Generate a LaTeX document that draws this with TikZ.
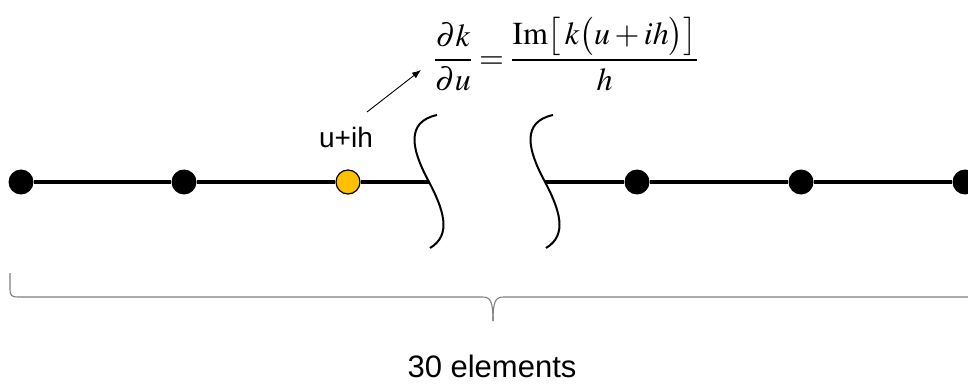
\documentclass[tikz,border=0pt]{standalone}
\usepackage{mathptmx}
\usepackage{fontspec}
\setmainfont{Liberation Serif}
\setsansfont{Liberation Sans}
\usetikzlibrary{arrows.meta}
\definecolor{dotyellow}{HTML}{FFC000}
\tikzset{
  dotnode/.style={circle, fill=black, inner sep=0pt, minimum size=25pt},
  ydotnode/.style={circle, fill=dotyellow, draw=black, line width=1.2pt, inner sep=0pt, minimum size=24pt},
  chain/.style={line width=3pt, black},
  breakline/.style={line width=2pt, black},
  bracestyle/.style={line width=1.1pt, gray},
  lbl/.style={font=\sffamily\fontsize{28}{32}\selectfont, inner sep=0pt},
}
\begin{document}
\begin{tikzpicture}[x=1pt,y=-1pt]
\clip (0,0) rectangle (968,390);
\fill[white] (0,0) rectangle (968,390);
% dots
\node[dotnode] (n1) at (21,182) {};
\node[dotnode] (n2) at (184,182) {};
\node[ydotnode] (n3) at (348,182) {};
\node[dotnode] (n4) at (637,182) {};
\node[dotnode] (n5) at (801,182) {};
\node[dotnode] (n6) at (965,182) {};
\coordinate (b1) at (429,182);
\coordinate (b2) at (545,182);
% line segments
\draw[chain] (n1) -- (n2);
\draw[chain] (n2) -- (n3);
\draw[chain] (n3) -- (b1);
\draw[chain] (b2) -- (n4);
\draw[chain] (n4) -- (n5);
\draw[chain] (n5) -- (n6);
% break curves
\draw[breakline] (437,115) .. controls (405,122) and (412,150) .. (428,180) .. controls (444,210) and (452,235) .. (430,248);
\draw[breakline] (553,115) .. controls (521,122) and (528,150) .. (544,180) .. controls (560,210) and (568,235) .. (546,248);
% label and arrow
\node[lbl] (lab) at (346,137) {u+ih};
\coordinate (astart) at (367,112);
\node[inner sep=0pt] (eq) at (566,54) {\fontsize{32}{38}\selectfont$\displaystyle \frac{\partial k}{\partial u}=\frac{\mathrm{Im}\bigl[\,k\bigl(u+ih\bigr)\bigr]}{h}$};
\coordinate (aend) at (421,70);
\draw[line width=0.9pt, -{Latex[length=9pt,width=7pt]}] (astart) -- (aend);
% brace
\coordinate (bl) at (10,273);
\coordinate (tip) at (493,321);
\draw[bracestyle] (bl) -- (10,289) .. controls (10,296) and (12,297) .. (18,297) -- (482,297) .. controls (490,297) and (493,300) .. (tip);
\draw[bracestyle] (tip) .. controls (493,300) and (496,297) .. (504,297) -- (975,297);
\node[font=\sffamily\fontsize{31}{36}\selectfont, inner sep=0pt] (cnt) at (492,366) {30 elements};
\end{tikzpicture}
\end{document}
